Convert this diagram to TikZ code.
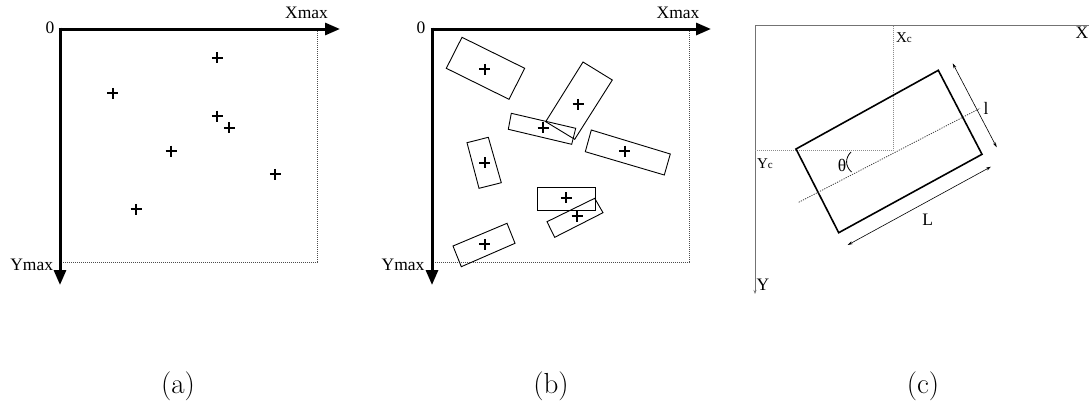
\documentclass[tikz,border=0pt]{standalone}
\usepackage{fontspec}
\newfontfamily\lib{Liberation Serif}
\usetikzlibrary{arrows.meta}
\begin{document}
\begin{tikzpicture}[x=1pt,y=-1pt,
  axis/.style={line width=3pt,-{Triangle[length=15pt,width=12pt]}},
  guide/.style={black!70,line width=0.6pt,dash pattern=on 1pt off 1pt},
  box/.style={line width=0.9pt,line join=miter},
  lbl/.style={font=\lib\fontsize{17.5}{18}\selectfont,inner sep=0pt,anchor=base},
  small/.style={font=\lib\fontsize{15}{16}\selectfont,inner sep=0pt,anchor=base},
  captxt/.style={font=\fontsize{29}{30}\selectfont,inner sep=0pt,anchor=base},
  thinax/.style={black!55,line width=0.9pt},
  dimline/.style={line width=0.6pt,{Stealth[length=5pt,width=3pt]}-{Stealth[length=5pt,width=3pt]}},
  plusmark/.pic={\draw[line width=2.2pt] (-5.5,0)--(5.5,0) (0,-5.5)--(0,5.5);}
]
\clip (0,0) rectangle (1089,405);
\fill[white] (0,0) rectangle (1089,405);

% ---------- panel (a) ----------
\draw[guide] (317,29) -- (317,262) -- (60,262);
\draw[axis] (58.5,29) -- (340,29);
\draw[axis] (60,27.5) -- (60,285);
\node[lbl] (a0) at (50,33) {0};
\node[lbl] (axm) at (306.5,18.3) {Xmax};
\node[lbl] (aym) at (31.7,270) {Ymax};
\foreach \p in {(217.3,57.7),(112.7,93.3),(217.3,116),(229.3,127.7),(171,151),(275.3,174.3),(136,209.3)}
  \pic at \p {plusmark};
\node[captxt] (capa) at (178,393) {(a)};

% ---------- panel (b) ----------
\draw[guide] (689,29) -- (689,262) -- (432,262);
\draw[axis] (430.5,29) -- (711,29);
\draw[axis] (432,27.5) -- (432,285);
\node[lbl] (b0) at (421,33) {0};
\node[lbl] (bxm) at (678,18.3) {Xmax};
\node[lbl] (bym) at (403,270) {Ymax};
\draw[box] (462,37.3) -- (524.7,68.3) -- (509,99.3) -- (446.3,68.3) -- cycle;
\draw[box] (583,62) -- (612.3,80) -- (574.7,139.3) -- (545.7,121.7) -- cycle;
\draw[box] (511.3,113.3) -- (575.7,128.3) -- (571.7,144.3) -- (508.3,129.3) -- cycle;
\draw[box] (591.3,130) -- (670.3,154) -- (664.3,175) -- (585.3,151.7) -- cycle;
\draw[box] (467,142.7) -- (488.3,137.3) -- (501.3,182.7) -- (479,188.3) -- cycle;
\draw[box] (537,187.3) rectangle (595.7,210.7);
\draw[box] (547,221.7) -- (594.7,198.3) -- (603,212.7) -- (554.7,237.3) -- cycle;
\draw[box] (453,246) -- (507,223.3) -- (515,243.3) -- (461.3,266.7) -- cycle;
\foreach \p in {(484.7,69.3),(578,104.3),(543,127.7),(624.7,151),(484.7,162.7),(566.3,197.7),(577,216),(484.7,244.3)}
  \pic at \p {plusmark};
\node[captxt] (capb) at (551,393) {(b)};

% ---------- panel (c) ----------
\draw[thinax] (755,25.7) -- (1089,25.7);
\draw[thinax,-{Stealth[length=4pt,width=3pt]}] (755,25.7) -- (755,294);
\draw[guide,black!45] (893.3,25.7) -- (893.3,150) -- (755,150);
\draw[line width=1.6pt,line join=miter] (796,149) -- (938.3,70.3) -- (982,154.3) -- (838.7,232.7) -- cycle;
\draw[black!75,line width=0.8pt,dash pattern=on 1.2pt off 1.2pt] (798.7,202.3) -- (980,108.3);
\draw[dimline] (952.7,63.3) -- (996.7,147.3);
\draw[dimline] (847.7,245) -- (991,166.7);
\draw[line width=0.8pt] (851,152) .. controls (845,158) and (845,166) .. (851.5,172);
\node[small] (xc) at (904,42) {X\fontsize{11}{12}\selectfont c};
\node[small] (yc) at (765,168) {Y\fontsize{11}{12}\selectfont c};
\node[lbl,anchor=base east] (cx) at (1088.5,38) {X};
\node[lbl] (cy) at (763,290) {Y};
\node[lbl] (th) at (842,171) {θ};
\node[lbl] (ll) at (986,114) {l};
\node[lbl] (lL) at (927.7,225) {L};
\node[captxt] (capc) at (923,393) {(c)};
\end{tikzpicture}
\end{document}
